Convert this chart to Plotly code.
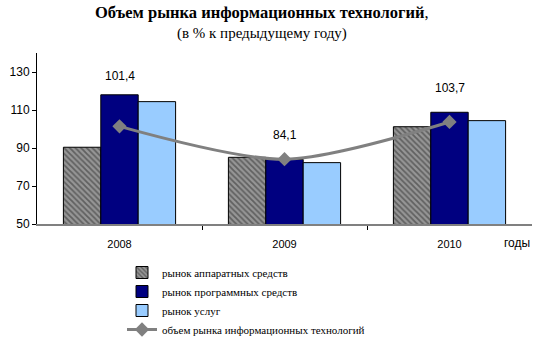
import plotly.graph_objects as go

years = [2008, 2009, 2010]
year_labels = ["2008", "2009", "2010"]
hardware = [90.4, 85.1, 101.2]
software = [118.0, 84.0, 108.8]
services = [114.4, 82.3, 104.4]
it_total = [101.4, 84.1, 103.7]
it_labels = ["101,4", "84,1", "103,7"]
label_shift = [50, 24, 34]
y_ticks = [50, 70, 90, 110, 130]
boundaries = [2008.5, 2009.5]

names = ["рынок аппаратных средств", "рынок программных средств", "рынок услуг",
         "объем рынка информационных технологий"]

SERIF = "Liberation Serif"
SANS = "Liberation Sans"

fig = go.Figure()
fig.add_trace(go.Bar(x=years, y=hardware, name=names[0],
                     marker=dict(color="#9a9a9a", line=dict(color="#000000", width=1),
                                 pattern=dict(shape="\\", fgcolor="#2a2a2a", bgcolor="#969696",
                                              size=4, solidity=0.45))))
fig.add_trace(go.Bar(x=years, y=software, name=names[1],
                     marker=dict(color="#000080", line=dict(color="#000000", width=1))))
fig.add_trace(go.Bar(x=years, y=services, name=names[2],
                     marker=dict(color="#99ccff", line=dict(color="#000000", width=1))))
fig.add_trace(go.Scatter(x=years, y=it_total, name=names[3], mode="lines+markers",
                         line=dict(color="#808080", width=3, shape="spline", smoothing=0.8),
                         marker=dict(symbol="diamond", size=11, color="#808080")))

for x, y, t, s in zip(years, it_total, it_labels, label_shift):
    fig.add_annotation(x=x, y=y, text=t, showarrow=False, yshift=s,
                       font=dict(family=SANS, size=12, color="#000"))

fig.add_annotation(xref="paper", yref="paper", x=0.94, y=0, yshift=-19, text="годы",
                   showarrow=False, xanchor="left", yanchor="middle",
                   font=dict(family=SANS, size=12, color="#000"))

fig.add_annotation(xref="paper", yref="paper", x=0.5, xshift=-23, y=1, yshift=41,
                   yanchor="middle",
                   text="<b>Объем рынка информационных технологий</b>,", showarrow=False,
                   font=dict(family=SERIF, size=16.5, color="#000"))
fig.add_annotation(xref="paper", yref="paper", x=0.5, xshift=-23, y=1, yshift=20,
                   yanchor="middle",
                   text="(в % к предыдущему году)", showarrow=False,
                   font=dict(family=SERIF, size=15, color="#000"))

fig.update_layout(
    width=550, height=338,
    margin=dict(l=37, r=18, t=53, b=114, autoexpand=False),
    paper_bgcolor="white", plot_bgcolor="white",
    font=dict(family=SERIF),
    barmode="group", bargap=0.32, bargroupgap=0,
    showlegend=True,
    legend=dict(x=122 / 550, y=1 - 258 / 338, xref="container", yref="container",
                xanchor="left", yanchor="top",
                font=dict(family=SERIF, size=11, color="#000"),
                itemwidth=30, tracegroupgap=0, traceorder="normal",
                bgcolor="rgba(0,0,0,0)"),
    xaxis=dict(type="linear", range=[min(years) - 0.5, max(years) + 0.5],
               tickvals=years, ticktext=year_labels,
               showline=True, linecolor="#808080", linewidth=2,
               ticks="outside", ticklen=9, tickcolor="rgba(0,0,0,0)",
               minor=dict(tickvals=boundaries, ticks="outside", ticklen=4,
                          tickcolor="#000", showgrid=False),
               tickfont=dict(family=SANS, size=11, color="#000"),
               showgrid=False, zeroline=False),
    yaxis=dict(range=[50, 140], tickvals=y_ticks, showline=True, linecolor="#000",
               linewidth=1, ticks="outside", ticklen=4, tickcolor="#000",
               tickfont=dict(family=SANS, size=12, color="#000"),
               showgrid=False, zeroline=False),
)

fig.write_html("out.html")
